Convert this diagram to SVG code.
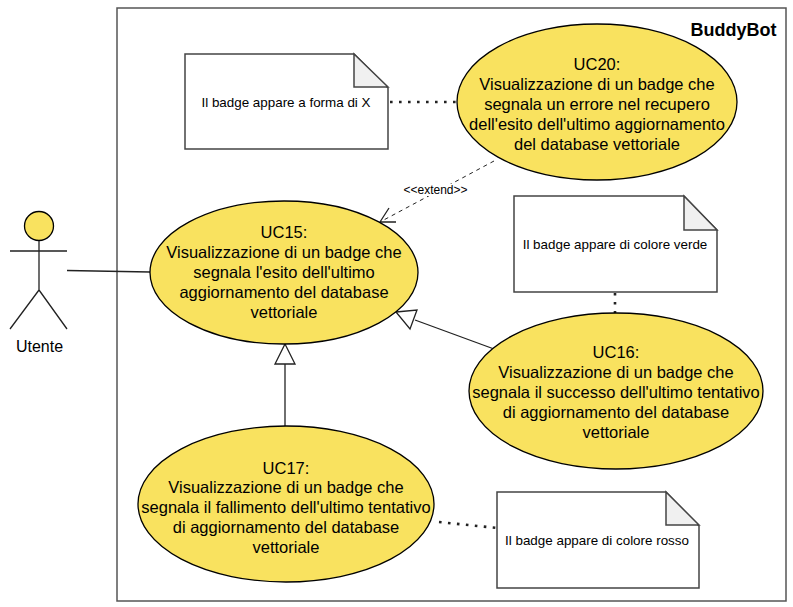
<svg xmlns="http://www.w3.org/2000/svg" width="793" height="607" viewBox="0 0 793 607">
<style>
text{font-family:"Liberation Sans",Arial,sans-serif;fill:#000;text-anchor:middle}
.uc{font-size:16.500px}
.note{font-size:13.400px}
.sh{fill:#f9e25f;stroke:#000;stroke-width:1.3}
.n{fill:#fff;stroke:#444;stroke-width:1.500}
.f{fill:#f0f0f0;stroke:#444;stroke-width:1.500}
.t{fill:#fff;stroke:#222;stroke-width:1.3}
.l{fill:none;stroke:#222;stroke-width:1.3}
.dot{fill:none;stroke:#222;stroke-width:2.600;stroke-dasharray:2.600 6.400}
</style>
<rect id="boundary" x="117" y="8" width="669" height="593" fill="#fff" stroke="#555" stroke-width="1.5"/>
<text x="733.500" y="36" font-size="18" font-weight="700">BuddyBot</text>
<g id="connectors">
<path class="l" d="M67 270.500L150 272"/>
<path class="dot" d="M390 102L457 102"/>
<path class="dot" d="M615 293L615 313"/>
<path class="dot" d="M439 522L497 528"/>
<path d="M494 161L380 222" fill="none" stroke="#222" stroke-width="1" stroke-dasharray="4 4"/>
<path class="l" d="M389 208L380 222L396 222"/>
<path class="l" d="M285 426L285 364"/>
<path class="t" d="M285 344L295 364L275 364Z"/>
<path class="l" d="M494 349L415 320"/>
<path class="t" d="M396 312L417 310L410 329Z"/>
<rect x="402" y="184" width="67" height="12" fill="#fff"/>
<text x="435.500" y="194" font-size="12">&lt;&lt;extend&gt;&gt;</text>
</g>
<g id="actor">
<circle class="sh" cx="39" cy="226" r="14.500"/>
<path class="l" d="M39 241V290M10 251H67M39 290L10 329M39 290L67 329"/>
<text x="39.500" y="352" font-size="16">Utente</text>
</g>
<g id="uc20">
<ellipse class="sh" cx="597" cy="102" rx="140" ry="78"/>
<text class="uc"><tspan x="597" y="70">UC20:</tspan><tspan x="597" y="90">Visualizzazione di un badge che</tspan><tspan x="597" y="110">segnala un errore nel recupero</tspan><tspan x="597" y="130">dell'esito dell'ultimo aggiornamento</tspan><tspan x="597" y="150">del database vettoriale</tspan></text>
</g>
<g id="uc15">
<ellipse class="sh" cx="284" cy="272.500" rx="134" ry="71.500"/>
<text class="uc"><tspan x="284" y="238">UC15:</tspan><tspan x="284" y="258">Visualizzazione di un badge che</tspan><tspan x="284" y="278">segnala l'esito dell'ultimo</tspan><tspan x="284" y="298">aggiornamento del database</tspan><tspan x="284" y="318">vettoriale</tspan></text>
</g>
<g id="uc16">
<ellipse class="sh" cx="616" cy="391" rx="147" ry="78"/>
<text class="uc"><tspan x="616" y="358">UC16:</tspan><tspan x="616" y="378">Visualizzazione di un badge che</tspan><tspan x="616" y="398">segnala il successo dell'ultimo tentativo</tspan><tspan x="616" y="418">di aggiornamento del database</tspan><tspan x="616" y="438">vettoriale</tspan></text>
</g>
<g id="uc17">
<ellipse class="sh" cx="286" cy="504" rx="148" ry="78"/>
<text class="uc"><tspan x="286" y="474">UC17:</tspan><tspan x="286" y="493">Visualizzazione di un badge che</tspan><tspan x="286" y="513">segnala il fallimento dell'ultimo tentativo</tspan><tspan x="286" y="533">di aggiornamento del database</tspan><tspan x="286" y="553">vettoriale</tspan></text>
</g>
<g id="note20">
<path class="n" d="M185 54H354L388 88V149H185Z"/>
<path class="f" d="M354 54V87H388Z"/>
<text class="note" x="286" y="107">Il badge appare a forma di X</text>
</g>
<g id="note16">
<path class="n" d="M514 196H684L717 230V292H514Z"/>
<path class="f" d="M684 196V230H717Z"/>
<text class="note" x="615" y="249">Il badge appare di colore verde</text>
</g>
<g id="note17">
<path class="n" d="M497 492H666L699 526V588H497Z"/>
<path class="f" d="M666 492V525H699Z"/>
<text class="note" x="597" y="545">Il badge appare di colore rosso</text>
</g>
</svg>
